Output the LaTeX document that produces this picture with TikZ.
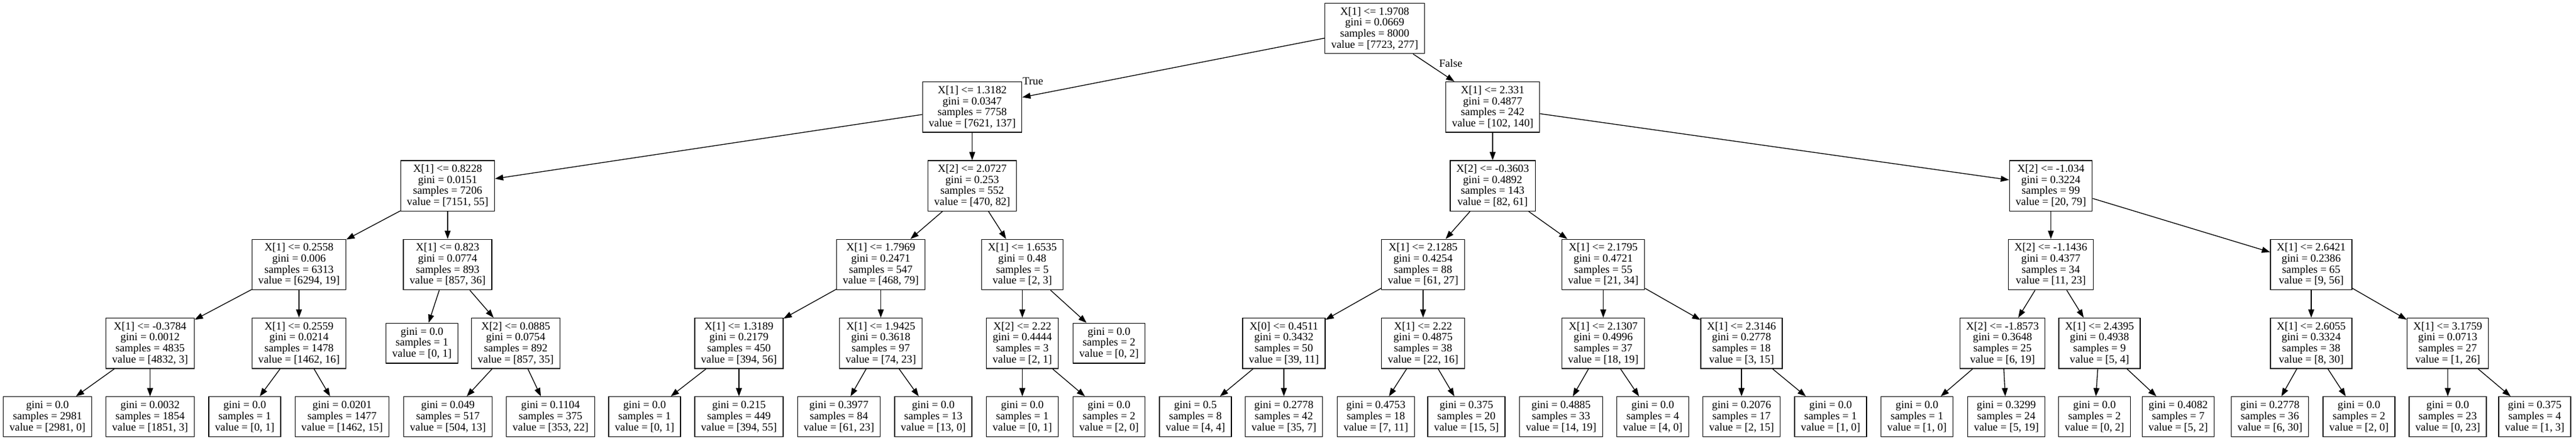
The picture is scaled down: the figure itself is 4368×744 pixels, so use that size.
\documentclass[tikz,border=0pt]{standalone}
\usepackage{fontspec}
\setmainfont{Liberation Serif}
\usetikzlibrary{arrows.meta}
\begin{document}
\begin{tikzpicture}[x=0.75pt,y=-0.75pt,
  box/.style={draw=black, line width=1pt, rectangle, align=center, inner xsep=7.92pt, inner ysep=0pt, font=\fontsize{14}{14}\selectfont},
  inode/.style={box, minimum height=64pt},
  leaf/.style={box, minimum height=50.8pt},
  arr/.style={draw=black, line width=1pt, -{Triangle[length=10.5pt,width=7.5pt]}},
  elab/.style={inner sep=0pt, font=\fontsize{14}{14}\selectfont}]
\useasboundingbox (0,0) rectangle (4368,744);
% level 0
\node[inode] (root) at (2331,48) {X[1] <= 1.9708\\gini = 0.0669\\samples = 8000\\value = [7723, 277]};
% level 1
\node[inode] (A) at (1648.5,181.3) {X[1] <= 1.3182\\gini = 0.0347\\samples = 7758\\value = [7621, 137]};
\node[inode] (N) at (2531,181.3) {X[1] <= 2.331\\gini = 0.4877\\samples = 242\\value = [102, 140]};
% level 2
\node[inode] (B) at (759,314.6) {X[1] <= 0.8228\\gini = 0.0151\\samples = 7206\\value = [7151, 55]};
\node[inode] (H) at (1648.5,314.6) {X[2] <= 2.0727\\gini = 0.253\\samples = 552\\value = [470, 82]};
\node[inode] (O) at (2531,314.6) {X[2] <= -0.3603\\gini = 0.4892\\samples = 143\\value = [82, 61]};
\node[inode] (V) at (3477.5,314.6) {X[2] <= -1.034\\gini = 0.3224\\samples = 99\\value = [20, 79]};
% level 3
\node[inode] (C) at (507,447.9) {X[1] <= 0.2558\\gini = 0.006\\samples = 6313\\value = [6294, 19]};
\node[inode] (F) at (759,447.9) {X[1] <= 0.823\\gini = 0.0774\\samples = 893\\value = [857, 36]};
\node[inode] (I) at (1493.5,447.9) {X[1] <= 1.7969\\gini = 0.2471\\samples = 547\\value = [468, 79]};
\node[inode] (L) at (1733.5,447.9) {X[1] <= 1.6535\\gini = 0.48\\samples = 5\\value = [2, 3]};
\node[inode] (P) at (2413,447.9) {X[1] <= 2.1285\\gini = 0.4254\\samples = 88\\value = [61, 27]};
\node[inode] (S) at (2718.5,447.9) {X[1] <= 2.1795\\gini = 0.4721\\samples = 55\\value = [21, 34]};
\node[inode] (W) at (3477.5,447.9) {X[2] <= -1.1436\\gini = 0.4377\\samples = 34\\value = [11, 23]};
\node[inode] (Z) at (3919,447.9) {X[1] <= 2.6421\\gini = 0.2386\\samples = 65\\value = [9, 56]};
% level 4
\node[inode] (D) at (254.5,581.2) {X[1] <= -0.3784\\gini = 0.0012\\samples = 4835\\value = [4832, 3]};
\node[inode] (E) at (507,581.2) {X[1] <= 0.2559\\gini = 0.0214\\samples = 1478\\value = [1462, 16]};
\node[leaf]  (Fl) at (715.5,581.2) {gini = 0.0\\samples = 1\\value = [0, 1]};
\node[inode] (G) at (874.5,581.2) {X[2] <= 0.0885\\gini = 0.0754\\samples = 892\\value = [857, 35]};
\node[inode] (J) at (1253,581.2) {X[1] <= 1.3189\\gini = 0.2179\\samples = 450\\value = [394, 56]};
\node[inode] (K) at (1493.5,581.2) {X[1] <= 1.9425\\gini = 0.3618\\samples = 97\\value = [74, 23]};
\node[inode] (M) at (1733.5,581.2) {X[2] <= 2.22\\gini = 0.4444\\samples = 3\\value = [2, 1]};
\node[leaf]  (Ll) at (1880.5,581.2) {gini = 0.0\\samples = 2\\value = [0, 2]};
\node[inode] (Q) at (2177,581.2) {X[0] <= 0.4511\\gini = 0.3432\\samples = 50\\value = [39, 11]};
\node[inode] (R) at (2413,581.2) {X[1] <= 2.22\\gini = 0.4875\\samples = 38\\value = [22, 16]};
\node[inode] (T) at (2718.5,581.2) {X[1] <= 2.1307\\gini = 0.4996\\samples = 37\\value = [18, 19]};
\node[inode] (U) at (2953,581.2) {X[1] <= 2.3146\\gini = 0.2778\\samples = 18\\value = [3, 15]};
\node[inode] (X) at (3395.5,581.2) {X[2] <= -1.8573\\gini = 0.3648\\samples = 25\\value = [6, 19]};
\node[inode] (Y) at (3560,581.2) {X[1] <= 2.4395\\gini = 0.4938\\samples = 9\\value = [5, 4]};
\node[inode] (AA) at (3919,581.2) {X[1] <= 2.6055\\gini = 0.3324\\samples = 38\\value = [8, 30]};
\node[inode] (AB) at (4150.5,581.2) {X[1] <= 3.1759\\gini = 0.0713\\samples = 27\\value = [1, 26]};
% level 5
\node[leaf] (l1) at (80.5,705.6) {gini = 0.0\\samples = 2981\\value = [2981, 0]};
\node[leaf] (l2) at (254.5,705.6) {gini = 0.0032\\samples = 1854\\value = [1851, 3]};
\node[leaf] (l3) at (415,705.6) {gini = 0.0\\samples = 1\\value = [0, 1]};
\node[leaf] (l4) at (580,705.6) {gini = 0.0201\\samples = 1477\\value = [1462, 15]};
\node[leaf] (l5) at (759.5,705.6) {gini = 0.049\\samples = 517\\value = [504, 13]};
\node[leaf] (l6) at (933.5,705.6) {gini = 0.1104\\samples = 375\\value = [353, 22]};
\node[leaf] (l7) at (1093,705.6) {gini = 0.0\\samples = 1\\value = [0, 1]};
\node[leaf] (l8) at (1253,705.6) {gini = 0.215\\samples = 449\\value = [394, 55]};
\node[leaf] (l9) at (1422.5,705.6) {gini = 0.3977\\samples = 84\\value = [61, 23]};
\node[leaf] (l10) at (1582.5,705.6) {gini = 0.0\\samples = 13\\value = [13, 0]};
\node[leaf] (l11) at (1733.5,705.6) {gini = 0.0\\samples = 1\\value = [0, 1]};
\node[leaf] (l12) at (1880.5,705.6) {gini = 0.0\\samples = 2\\value = [2, 0]};
\node[leaf] (l13) at (2027,705.6) {gini = 0.5\\samples = 8\\value = [4, 4]};
\node[leaf] (l14) at (2177,705.6) {gini = 0.2778\\samples = 42\\value = [35, 7]};
\node[leaf] (l15) at (2333,705.6) {gini = 0.4753\\samples = 18\\value = [7, 11]};
\node[leaf] (l16) at (2486.5,705.6) {gini = 0.375\\samples = 20\\value = [15, 5]};
\node[leaf] (l17) at (2647,705.6) {gini = 0.4885\\samples = 33\\value = [14, 19]};
\node[leaf] (l18) at (2802.5,705.6) {gini = 0.0\\samples = 4\\value = [4, 0]};
\node[leaf] (l19) at (2953,705.6) {gini = 0.2076\\samples = 17\\value = [2, 15]};
\node[leaf] (l20) at (3104,705.6) {gini = 0.0\\samples = 1\\value = [1, 0]};
\node[leaf] (l21) at (3250.5,705.6) {gini = 0.0\\samples = 1\\value = [1, 0]};
\node[leaf] (l22) at (3402,705.6) {gini = 0.3299\\samples = 24\\value = [5, 19]};
\node[leaf] (l23) at (3551.5,705.6) {gini = 0.0\\samples = 2\\value = [0, 2]};
\node[leaf] (l24) at (3693.5,705.6) {gini = 0.4082\\samples = 7\\value = [5, 2]};
\node[leaf] (l25) at (3849,705.6) {gini = 0.2778\\samples = 36\\value = [6, 30]};
\node[leaf] (l26) at (4000,705.6) {gini = 0.0\\samples = 2\\value = [2, 0]};
\node[leaf] (l27) at (4150.5,705.6) {gini = 0.0\\samples = 23\\value = [0, 23]};
\node[leaf] (l28) at (4298,705.6) {gini = 0.375\\samples = 4\\value = [1, 3]};
% edge labels
\node[elab] (lblT) at (1751.5,137) {True};
\node[elab] (lblF) at (2460,106.7) {False};
% edges
\foreach \a/\b in {root/A, root/N, A/B, A/H, N/O, N/V,
  B/C, B/F, H/I, H/L, O/P, O/S, V/W, V/Z,
  C/D, C/E, F/Fl, F/G, I/J, I/K, L/M, L/Ll, P/Q, P/R, S/T, S/U, W/X, W/Y, Z/AA, Z/AB,
  D/l1, D/l2, E/l3, E/l4, G/l5, G/l6, J/l7, J/l8, K/l9, K/l10, M/l11, M/l12,
  Q/l13, Q/l14, R/l15, R/l16, T/l17, T/l18, U/l19, U/l20, X/l21, X/l22, Y/l23, Y/l24,
  AA/l25, AA/l26, AB/l27, AB/l28}
  \draw[arr] (\a) -- (\b);
\end{tikzpicture}
\end{document}
